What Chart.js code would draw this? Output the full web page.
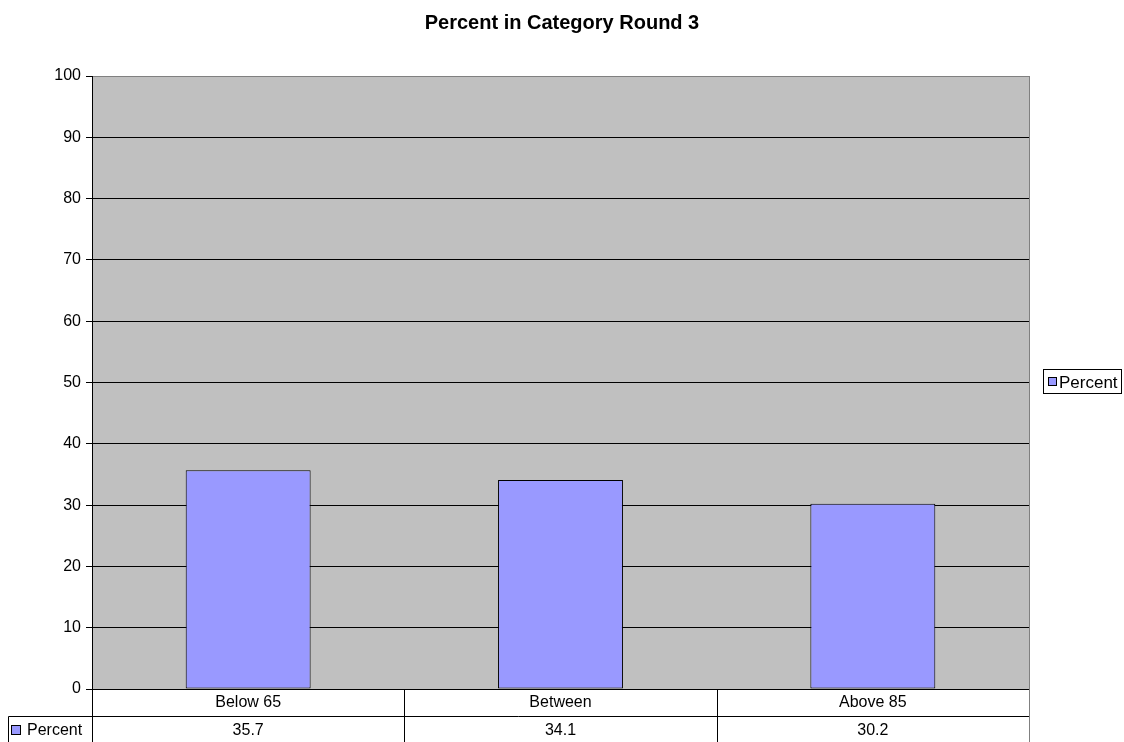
<!DOCTYPE html>
<html>
<head>
<meta charset="utf-8">
<script src="https://cdn.jsdelivr.net/npm/chart.js@4/dist/chart.umd.min.js"></script>
<style>
  html, body { margin: 0; padding: 0; background: #ffffff; }
  #wrap { width: 1124px; height: 742px; }
</style>
</head>
<body>
<div id="wrap"><canvas id="c" width="1124" height="742"></canvas></div>
<script>
const titleText = "Percent in Category Round 3";
const categories = ["Below 65", "Between", "Above 85"];
const seriesName = "Percent";
const percentValues = [35.7, 34.1, 30.2];
const valueLabels = ["35.7", "34.1", "30.2"];

const FONT = "'Liberation Sans', Arial, sans-serif";
const BAR_FILL = "#9999FF";
const PLOT_BG = "#C0C0C0";

const plotBg = {
  id: "plotBg",
  beforeDraw(chart) {
    const { ctx, chartArea: a } = chart;
    ctx.save();
    ctx.fillStyle = PLOT_BG;
    ctx.fillRect(a.left, a.top, a.right - a.left, a.bottom - a.top);
    ctx.restore();
  },
  afterDraw(chart) {
    const { ctx, chartArea: a } = chart;
    const xs = chart.scales.x;
    const bottom = chart.height;
    ctx.save();
    // title, centred on the full page width
    ctx.fillStyle = "#000";
    ctx.font = "bold 20px " + FONT;
    ctx.textAlign = "center";
    ctx.textBaseline = "middle";
    ctx.fillText(titleText, chart.width / 2, 23);

    // plot area right border (gray), continued through the table
    ctx.strokeStyle = "#808080";
    ctx.lineWidth = 1;
    ctx.beginPath();
    ctx.moveTo(Math.round(a.right) + 0.5, a.top);
    ctx.lineTo(Math.round(a.right) + 0.5, bottom);
    ctx.stroke();

    // data table
    const n = categories.length;
    const cw = (xs.right - xs.left) / n;
    const rowSplit = 716.5;
    const legendLeft = 8.5;
    ctx.strokeStyle = "#000";
    ctx.beginPath();
    for (let i = 0; i < n; i++) {
      const x = Math.round(xs.left + i * cw) + 0.5;
      ctx.moveTo(x, a.bottom);
      ctx.lineTo(x, bottom);
    }
    ctx.moveTo(legendLeft, rowSplit);
    ctx.lineTo(a.right, rowSplit);
    ctx.moveTo(legendLeft, rowSplit);
    ctx.lineTo(legendLeft, bottom);
    ctx.stroke();

    ctx.fillStyle = "#000";
    ctx.font = "16px " + FONT;
    ctx.textAlign = "center";
    ctx.textBaseline = "middle";
    categories.forEach((c, i) => {
      const cx = xs.getPixelForValue(i);
      ctx.fillText(c, cx, 703);
      ctx.fillText(valueLabels[i], cx, 731);
    });
    // legend key in the table
    ctx.fillStyle = BAR_FILL;
    ctx.fillRect(11.5, 725.5, 9, 9);
    ctx.strokeRect(11.5, 725.5, 9, 9);
    ctx.fillStyle = "#000";
    ctx.textAlign = "left";
    ctx.fillText(seriesName, 27, 731);

    // right legend
    ctx.strokeStyle = "#000";
    ctx.strokeRect(1043.5, 369.5, 78, 24);
    ctx.fillStyle = BAR_FILL;
    ctx.fillRect(1048.5, 377.5, 8, 8);
    ctx.strokeRect(1048.5, 377.5, 8, 8);
    ctx.fillStyle = "#000";
    ctx.font = "17px " + FONT;
    ctx.fillText(seriesName, 1059, 383);
    ctx.restore();
  }
};

new Chart(document.getElementById("c"), {
  type: "bar",
  data: {
    labels: categories,
    datasets: [{
      label: seriesName,
      data: percentValues,
      backgroundColor: BAR_FILL,
      borderColor: "#000000",
      borderWidth: 1,
      borderSkipped: false,
      barPercentage: 0.4,
      categoryPercentage: 1.0
    }]
  },
  options: {
    responsive: false,
    animation: false,
    devicePixelRatio: 1,
    layout: { padding: { left: 0, right: 95, top: 76, bottom: 0 } },
    plugins: {
      legend: { display: false },
      tooltip: { enabled: false },
      title: { display: false }
    },
    scales: {
      x: {
        afterFit(scale) { scale.height = 53; },
        ticks: { display: false },
        grid: { display: false },
        border: { display: true, color: "#000", width: 1 }
      },
      y: {
        min: 0,
        max: 100,
        afterFit(scale) { scale.width = 92; },
        ticks: {
          stepSize: 10,
          color: "#000",
          font: { family: FONT, size: 16 },
          padding: 5
        },
        grid: {
          color: (ctx) => (ctx.tick && ctx.tick.value === 100 ? "#808080" : "#000000"),
          lineWidth: 1,
          tickLength: 6,
          tickColor: "#000"
        },
        border: { display: true, color: "#000", width: 1 }
      }
    }
  },
  plugins: [plotBg]
});
</script>
</body>
</html>
